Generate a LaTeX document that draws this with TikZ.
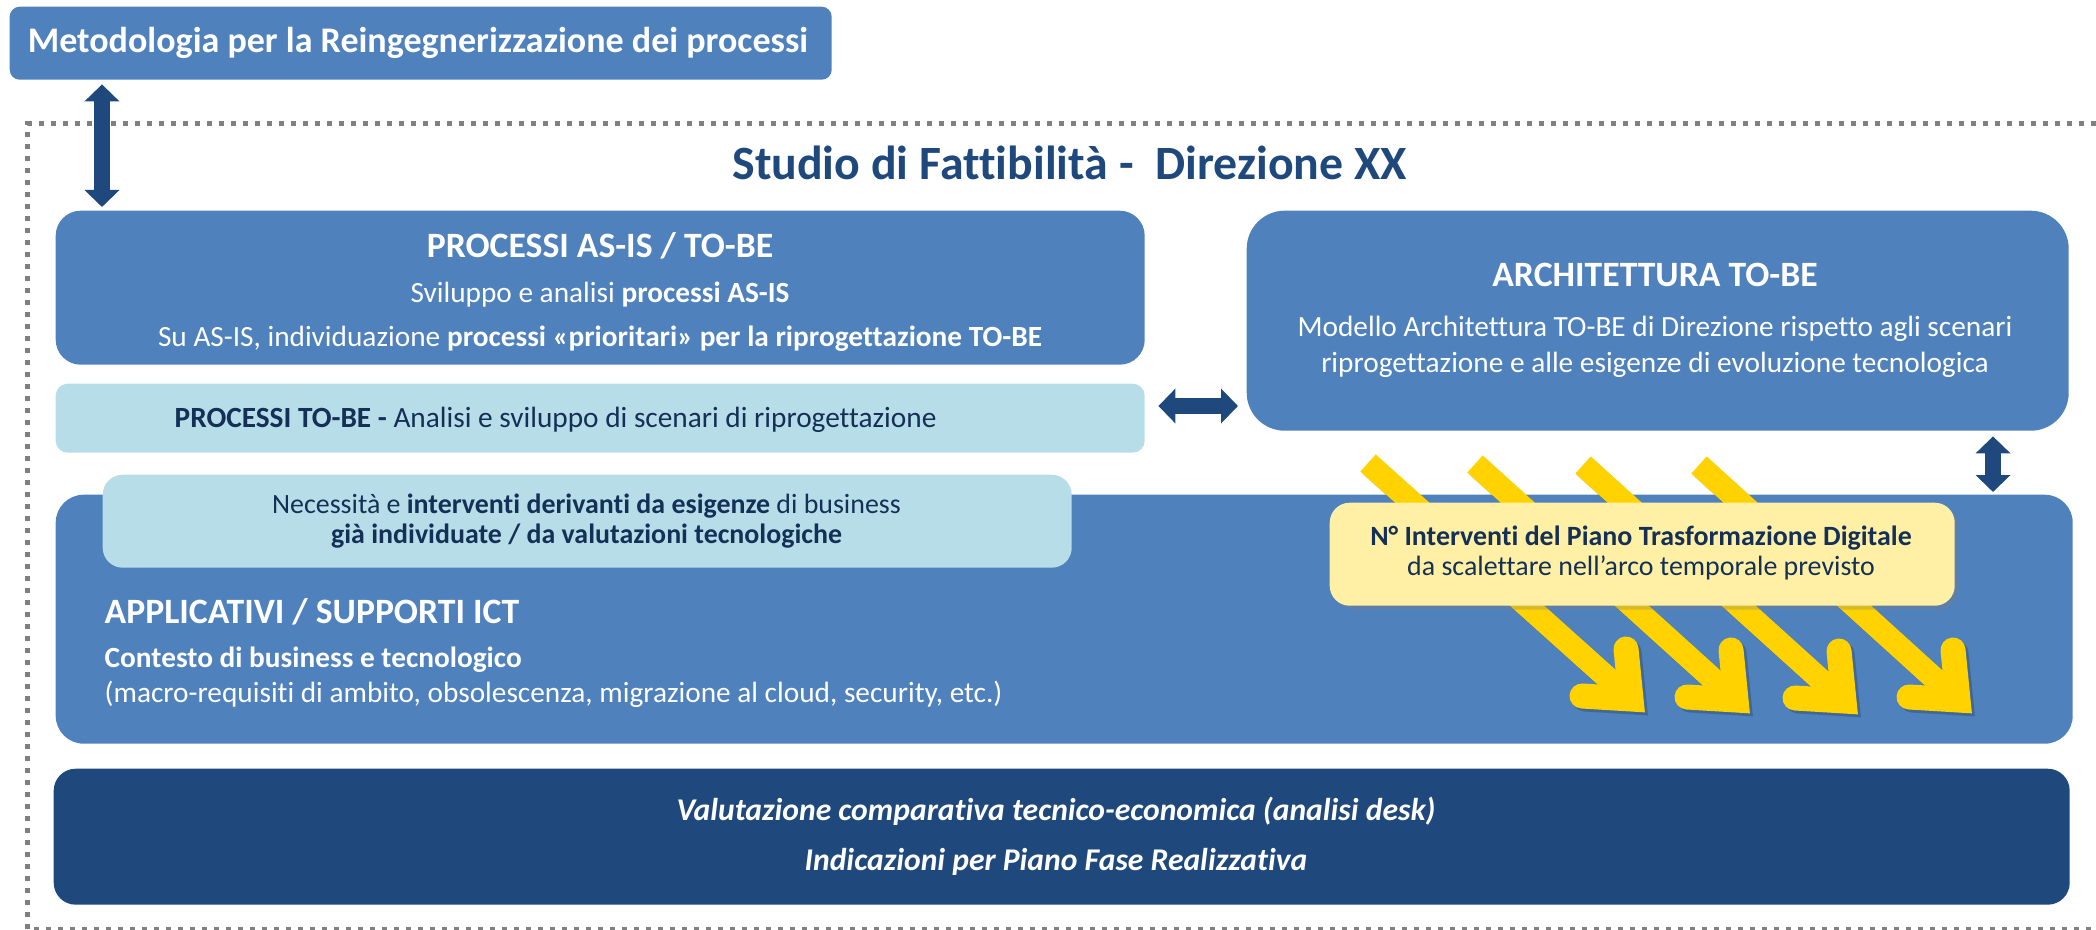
\documentclass[tikz,border=0pt]{standalone}
\usepackage{fontspec}
\setmainfont{Carlito}[Ligatures=NoCommon]
\definecolor{MidBlue}{RGB}{79,129,189}
\definecolor{DeepBlue}{RGB}{31,73,125}
\definecolor{PaleBlue}{RGB}{183,222,232}
\definecolor{NavyText}{RGB}{20,48,86}
\definecolor{NoteYellow}{RGB}{255,240,165}
\definecolor{ArrowGold}{RGB}{255,210,0}
\definecolor{FrameGrey}{RGB}{128,128,128}
\usetikzlibrary{arrows.meta, shadows}
\begin{document}
\begin{tikzpicture}[box/.style={fill=MidBlue, rounded corners=0.25cm, inner sep=0pt, anchor=north west},
  pale/.style={box, fill=PaleBlue, rounded corners=0.15cm}, note/.style={box, fill=NoteYellow, rounded corners=0.2cm, drop shadow={shadow xshift=0.04cm, shadow yshift=-0.04cm, opacity=0.3}},
  head/.style={font=\fontsize{10.15pt}{12pt}\selectfont\bfseries, text=white, anchor=base, inner sep=0pt},
  txt/.style={font=\fontsize{8.34pt}{10pt}\selectfont, text=white, anchor=base, inner sep=0pt}, small/.style={txt, font=\fontsize{7.94pt}{9.5pt}\selectfont, text=NavyText},
  frame/.style={draw=FrameGrey, line width=0.05cm, dash pattern=on 0.05cm off 0.07cm},
  dblarrow/.style={draw=DeepBlue, line width=0.16cm, {Triangle[length=0.17cm, width=0.34cm]}-{Triangle[length=0.17cm, width=0.34cm]}},
  ybar/.style={draw=ArrowGold, line width=0.23cm}, yhead/.style={draw=ArrowGold, line width=0.25cm, line cap=round, line join=miter}, yshade/.style={draw=black, opacity=0.2}]
\useasboundingbox (0,0) rectangle (20.96,-9.30);
\draw[frame] (21.2,-1.24) -| (0.275,-9.29) -- (21.2,-9.29);
\node[box, rounded corners=0.1cm, minimum width=8.22cm, minimum height=0.73cm] (meth) at (0.09,-0.06) {};
\node[head, font=\fontsize{10.25pt}{12pt}\selectfont\bfseries] (methT) at (4.18,-0.53) {Metodologia per la Reingegnerizzazione dei processi};
\node[head, font=\fontsize{13.6pt}{16pt}\selectfont\bfseries, text=DeepBlue] (studio) at (10.695,-1.80) {Studio di Fattibilità -~~Direzione XX};
\node[box, minimum width=10.89cm, minimum height=1.54cm] (procA) at (0.55,-2.10) {};
\node[head] (procAT) at (6.0,-2.58) {PROCESSI AS-IS / TO-BE};
\node[txt] (procA1) at (6.0,-3.03) {Sviluppo e analisi \textbf{processi AS-IS}};
\node[txt] (procA2) at (6.0,-3.47) {Su AS-IS, individuazione \textbf{processi «prioritari» per la riprogettazione TO-BE}};
\node[pale, rounded corners=0.12cm, minimum width=10.89cm, minimum height=0.69cm] (procB) at (0.55,-3.83) {};
\node[txt, text=NavyText, anchor=base west] (procBT) at (1.74,-4.28) {\textbf{PROCESSI TO-BE -} Analisi e sviluppo di scenari di riprogettazione};
\node[box, rounded corners=0.38cm, minimum width=8.22cm, minimum height=2.20cm] (arch) at (12.46,-2.10) {};
\node[head] (archT) at (16.55,-2.87) {ARCHITETTURA TO-BE};
\node[txt] (arch1) at (16.55,-3.37) {Modello Architettura TO-BE di Direzione rispetto agli scenari};
\node[txt] (arch2) at (16.55,-3.73) {riprogettazione e alle esigenze di evoluzione tecnologica};
\node[box, rounded corners=0.28cm, minimum width=20.17cm, minimum height=2.49cm] (appl) at (0.55,-4.94) {};
\node[pale, rounded corners=0.2cm, minimum width=9.69cm, minimum height=0.93cm] (need) at (1.02,-4.74) {};
\node[small] (need1) at (5.865,-5.13) {Necessità e \textbf{interventi derivanti da esigenze} di business};
\node[small] (need2) at (5.865,-5.43) {\textbf{già individuate / da valutazioni tecnologiche}};
\node[head, anchor=base west] (applT) at (1.04,-6.23) {APPLICATIVI / SUPPORTI ICT};
\node[txt, anchor=base west] (appl1) at (1.04,-6.67) {\textbf{Contesto di business e tecnologico}};
\node[txt, anchor=base west] (appl2) at (1.04,-7.02) {(macro-requisiti di ambito, obsolescenza, migrazione al cloud, security, etc.)};
\foreach \tx/\ty/\cx/\cy in {13.68/4.63/16.31/6.99, 14.75/4.64/17.36/7.00, 15.83/4.65/18.44/7.01, 16.99/4.65/19.58/7.00}{
  \draw[ybar, yshade, shift={(0.03,-0.03)}] (\tx,-\ty) -- (\cx,-\cy);
  \draw[yhead, yshade, shift={(0.03,-0.03)}] (\cx-0.05,-\cy+0.50) -- (\cx,-\cy) -- (\cx-0.49,-\cy+0.03);
  \draw[ybar] (\tx,-\ty) -- (\cx,-\cy);
  \draw[yhead] (\cx-0.05,-\cy+0.50) -- (\cx,-\cy) -- (\cx-0.49,-\cy+0.03);
}
\node[note, minimum width=6.25cm, minimum height=1.03cm] (plan) at (13.29,-5.02) {};
\node[small, font=\fontsize{7.94pt}{9.5pt}\selectfont\bfseries] (plan1) at (16.41,-5.45) {N° Interventi del Piano Trasformazione Digitale};
\node[small] (plan2) at (16.41,-5.75) {da scalettare nell’arco temporale previsto};
\node[box, fill=DeepBlue, rounded corners=0.22cm, minimum width=20.16cm, minimum height=1.36cm] (eval) at (0.53,-7.68) {};
\node[txt, font=\fontsize{9pt}{11pt}\selectfont\bfseries\itshape] (eval1) at (10.56,-8.20) {Valutazione comparativa tecnico-economica (analisi desk)};
\node[txt, font=\fontsize{9pt}{11pt}\selectfont\bfseries\itshape] (eval2) at (10.56,-8.70) {Indicazioni per Piano Fase Realizzativa};
\draw[dblarrow, shorten <=0.04cm, shorten >=0.03cm] (meth.south -| 1.02,0) -- (procA.north -| 1.02,0);
\draw[dblarrow, shorten <=0.13cm, shorten >=0.08cm] (procB.east |- 0,-4.06) -- (arch.west |- 0,-4.06);
\draw[dblarrow, shorten <=0.05cm, shorten >=0.02cm] (arch.south -| 19.93,0) -- (appl.north -| 19.93,0);
\end{tikzpicture}
\end{document}
